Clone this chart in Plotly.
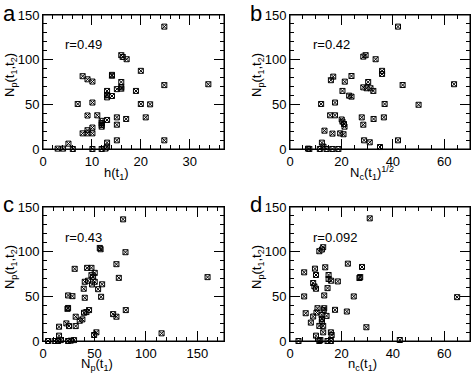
import plotly.graph_objects as go

# Panel a: h(t1) vs Np(t1,t2)
xa = [24.8,16.0,16.3,17.1,20.0,14.1,14.1,8.1,9.1,10.1,16.0,24.8,33.8,16.0,16.0,15.1,19.0,13.1,13.1,14.1,13.1,10.1,7.1,20.0,21.9,9.1,11.1,15.1,21.0,13.1,12.0,17.0,12.0,12.0,12.0,15.1,10.1,9.1,8.1,9.1,10.1,15.1,24.8,13.1,5.2,3.0,4.1,6.1,10.1,12.0,13.1,12.8]
ya = [137,105,103,100.5,87.5,83,82,81.5,78,75.5,75,71.5,72.5,69,67.5,67,65,65,60.5,59.3,57.8,52,50.4,50.4,50,37.5,37.7,35.4,35.4,32.5,31.5,33.6,29,27,25,27.2,24,21,17.5,17.5,17.5,9.7,9.7,7.1,6,0.4,0.4,0,0,0,2.6,0.5]

# Panel b: Nc(t1)^1/2 vs Np(t1,t2)
xb = [42,28.5,29.4,33.3,35.8,35.8,23.9,16.8,15.9,21.3,30.4,43.8,63.8,28.5,29.8,31.3,32.4,20.4,23.0,23.9,17.5,12.1,36.8,50,15.6,17.5,36.5,27.9,32.5,20.1,20.4,21,21.2,28.5,13.4,16.5,19.5,20.8,28.8,42,31,12.4,7.0,7.5,11.6,13,14.2,16.5,18.8,35]
yb = [137,103.4,105,100.5,87.5,84,81.7,81,77,75.4,75,71.6,72.5,69,68,68,65,65,59.7,58.6,52,50.4,50.4,49.5,37.7,37.7,35.4,35.4,33.6,33,30.6,28,25,27.2,20.5,17.2,17.5,16.5,9.7,9.7,7.5,7.1,0.4,0,0,2.6,0,0,0,2.2]

# Panel c: Np(t1) vs Np(t1,t2)
xc = [77.9,55.2,56,80.2,71.4,30.8,42.9,47.1,50.3,47.1,48.7,73.7,160,40.6,43.8,50.3,57.5,47.7,53.6,39.6,24.4,28.6,56.5,40.6,24.4,23.8,44.8,80.5,39.9,42.2,68.2,71.4,31.8,38.3,35.7,22.7,25.3,31.8,15.6,115.3,51.9,49.7,15.6,4.9,11.4,14.6,17.2,24.4,26.9,30.2]
yc = [136.2,104.2,102.7,99.4,86,80.8,81.9,81.9,76.3,73.7,71.8,70.7,71.5,66.3,67.5,66.3,63.5,63.3,58,58.5,51,50.2,49.5,48.4,37,36,34.6,34.6,31.6,32.4,30.1,27.2,27.2,24.2,22.7,19.7,16.7,16.7,16,8.6,9.7,6.7,6,0,0,0,1,0,0.4,1]

# Panel d: nc(t1) vs Np(t1,t2)
xd = [31,12.9,12.4,11.4,22.5,28,13.7,9.7,5.5,10.1,15,27.3,27,15,16,18.6,9,9.5,10.1,14.6,5.5,13.3,24.8,65,10.7,13.3,13.1,17.5,22.1,6.1,10.3,12.3,14.2,9,12.4,12.4,8.1,11.4,12.9,29.7,10.1,12.9,15.9,16.2,3.3,11.4,11.8,14.6,15.9,42.7]
yd = [137.3,105,102.4,100.5,86.6,82.9,82.5,81,76.9,73.9,73.9,71.6,70.5,69.4,67.5,66.7,64.9,61.1,58.5,59.2,49.9,51,49.9,49.1,36.7,36.7,34.5,34.9,33,31.1,31.9,29.2,28.1,27.4,24.7,21.7,20.6,16.9,16.9,15.4,6,9.7,9.7,6.7,0,0,1.1,0,0,1.1]

r_labels = ["r=0.49", "r=0.42", "r=0.43", "r=0.092"]
panel_letters = ["a", "b", "c", "d"]
x_titles = ["h(t<sub>1</sub>)", "N<sub>c</sub>(t<sub>1</sub>)<sup>1/2</sup>",
            "N<sub>p</sub>(t<sub>1</sub>)", "n<sub>c</sub>(t<sub>1</sub>)"]
y_title = "N<sub>p</sub>(t<sub>1</sub>,t<sub>2</sub>)"

W, H = 472, 374
ML, MR, MT, MB = 43, 2, 15, 33
PW, PH = W - ML - MR, H - MT - MB
FONT = "Liberation Sans, Arial, Helvetica, sans-serif"
TXT = dict(family=FONT, size=13, color="black")

panels = [
    dict(x=xa, y=ya, xr=[0, 37], dt=10, mdt=2, L=43, R=224, T=15, B=149),
    dict(x=xb, y=yb, xr=[0, 70], dt=20, mdt=5, L=290, R=470, T=15, B=149),
    dict(x=xc, y=yc, xr=[0, 176], dt=50, mdt=10, L=43, R=224, T=207, B=341),
    dict(x=xd, y=yd, xr=[0, 70], dt=20, mdt=5, L=290, R=470, T=207, B=341),
]


def px(v):
    return round((v - ML) / PW, 4)


def py(v):
    return round((H - MB - v) / PH, 4)


fig = go.Figure()
layout = dict(width=W, height=H, margin=dict(l=ML, r=MR, t=MT, b=MB, pad=0),
              plot_bgcolor="white", showlegend=False)
annotations = []
shapes = []

for i, p in enumerate(panels):
    sfx = "" if i == 0 else str(i + 1)
    fig.add_trace(go.Scatter(
        x=p["x"], y=p["y"], mode="markers", xaxis="x" + sfx, yaxis="y" + sfx,
        marker=dict(symbol="square-x-open", size=5, color="black",
                    line=dict(width=1, color="black")),
        cliponaxis=False, hoverinfo="skip"))
    common = dict(showline=True, linecolor="black", linewidth=1, mirror="ticks",
                  ticks="inside", ticklen=10, tickwidth=1, tickcolor="black",
                  showgrid=False, zeroline=False, tickfont=TXT)
    layout["xaxis" + sfx] = dict(common, domain=[max(0, px(p["L"])), min(1, px(p["R"]))],
                                 range=p["xr"], tick0=0, dtick=p["dt"],
                                 anchor="y" + sfx,
                                 minor=dict(dtick=p["mdt"], ticks="inside",
                                            ticklen=4, tickcolor="black",
                                            showgrid=False))
    layout["yaxis" + sfx] = dict(common, domain=[max(0, py(p["B"])), min(1, py(p["T"]))],
                                 range=[0, 150], tick0=0, dtick=50,
                                 anchor="x" + sfx,
                                 minor=dict(dtick=10, ticks="inside",
                                            ticklen=4, tickcolor="black",
                                            showgrid=False))
    shapes.append(dict(type="rect", xref="x" + sfx + " domain", yref="y" + sfx + " domain",
                       x0=0, x1=1, y0=0, y1=1, line=dict(color="black", width=1),
                       fillcolor="rgba(0,0,0,0)", layer="above"))
    L, R, T, B = p["L"], p["R"], p["T"], p["B"]
    annotations.append(dict(x=px(L + 20.5), y=py(T + 30), xref="paper", yref="paper",
                            text=r_labels[i], showarrow=False, xanchor="left",
                            yanchor="middle", font=TXT))
    annotations.append(dict(x=px(L - 42), y=py(T - 2), xref="paper", yref="paper",
                            text=panel_letters[i], showarrow=False, xanchor="left",
                            yanchor="middle", font=dict(TXT, size=22)))
    xoff = [-17, -8, -37, -17][i]
    annotations.append(dict(x=px((L + R) / 2 + xoff), y=py(B + 24), xref="paper",
                            yref="paper", text=x_titles[i], showarrow=False,
                            xanchor="center", yanchor="middle", font=TXT))
    annotations.append(dict(x=px(L - 32), y=py((T + B) / 2 - 7), xref="paper",
                            yref="paper", text=y_title, showarrow=False,
                            textangle=-90, xanchor="center", yanchor="middle",
                            font=TXT))

layout["annotations"] = annotations
layout["shapes"] = shapes
fig.update_layout(**layout)
fig.write_html("out.html", post_script="document.body.style.margin='0';",
               config={"displayModeBar": False})
